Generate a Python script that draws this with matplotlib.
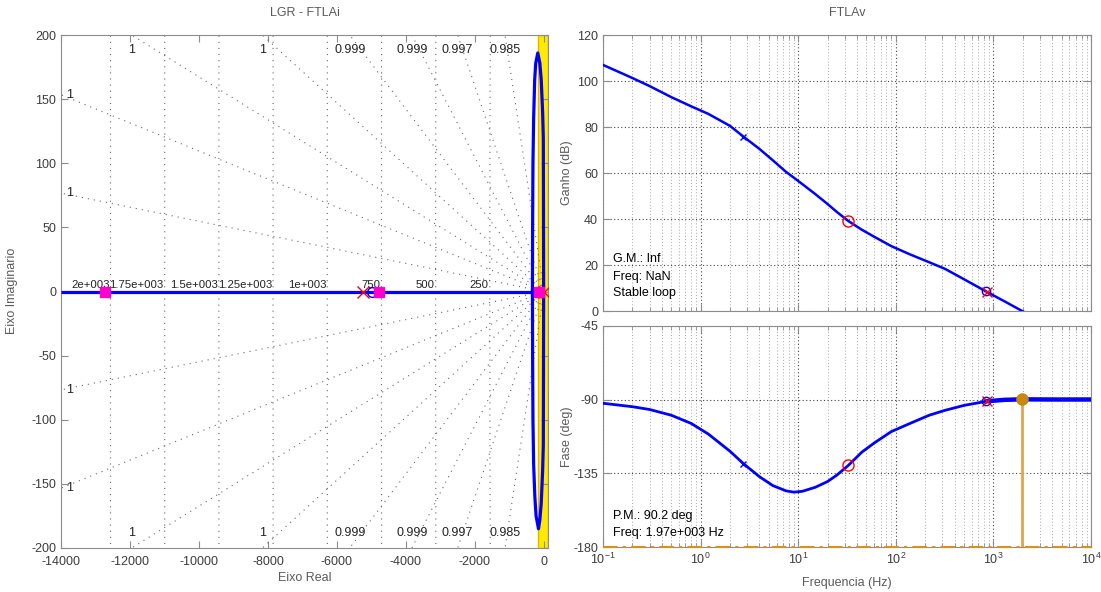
import numpy as np
import matplotlib
matplotlib.use("Agg")
import matplotlib.pyplot as plt

plt.rcParams['font.family'] = ['Liberation Sans', 'DejaVu Sans']
plt.rcParams['axes.unicode_minus'] = False

# ---------------- Root locus (FTLAi) ----------------
real_branch_re = [-14000, -335]
real_branch_im = [0, 0]
loop_re = [-335, -330, -320, -300, -270, -240, -180, -120, -80, -40, -20, -15, -10,
           -15, -20, -40, -80, -120, -160, -230, -265, -300, -320, -330, -335]
loop_im = [0, 50, 100, 135, 165, 178, 186, 178, 165, 140, 120, 60, 0,
           -60, -120, -140, -165, -178, -185, -175, -160, -135, -100, -50, 0]
ol_poles_re = [-5246, 0]
ol_zeros_re = [-4990]
cl_poles_re = [-12725, -4790, -145]
settling_bound_re = -165

grid_zeta = [0.999985, 0.99994, 0.99986, 0.99970, 0.99937, 0.99864, 0.99682, 0.9847]
grid_wn_hz = [250, 500, 750, 1000, 1250, 1500, 1750, 2000]
grid_wn_labels = ['250', '500', '750', '1e+003', '1.25e+003', '1.5e+003', '1.75e+003', '2e+003']

# ---------------- Bode (FTLAv) ----------------
freq_hz = [0.1, 0.2, 0.3, 0.5, 0.8, 1.2, 2.0, 2.75, 4, 5.5, 7.5, 9, 11, 15, 20, 25,
           32.7, 45, 60, 90, 140, 220, 320, 500, 850, 1300, 1970, 4000, 10000]
gain_db = [107.0, 101.3, 97.8, 93.0, 89.0, 85.7, 80.5, 75.8, 70.5, 65.5, 60.5, 58.0,
           55.2, 50.8, 46.5, 43.0, 39.1, 35.3, 32.3, 28.2, 24.6, 21.2, 18.3, 13.8,
           8.4, 4.2, 0.0, -6.5, -14.5]
phase_deg = [-92.2, -94.3, -96.0, -99.5, -104.5, -111.0, -121.5, -129.1, -137.0,
             -142.5, -145.7, -146.5, -146.0, -143.5, -140.0, -136.0, -130.1, -122.0,
             -116.5, -109.5, -104.5, -99.5, -96.5, -93.5, -91.0, -90.1, -89.8, -89.9, -89.9]

plant_pole_hz = [2.75]
plant_zero_hz = [840]
comp_zero_hz = [32.7]
comp_pole_hz = [870]
pm_deg = 90.2
pm_freq_hz = 1970

W, H = 1101, 592
fig = plt.figure(figsize=(W / 100, H / 100), dpi=100)
fig.patch.set_facecolor('white')


def px_axes(l, t, r, b):
    return fig.add_axes([l / W, 1 - b / H, (r - l) / W, (b - t) / H])


spine_c = '#8c8c8c'
tick_c = '#3c3c3c'
label_c = '#5a5a5a'
fs = 9


def style(ax):
    for s in ax.spines.values():
        s.set_color(spine_c)
    ax.tick_params(which='both', direction='in', top=True, right=True,
                   colors=spine_c, labelcolor=tick_c, labelsize=fs)
    ax.tick_params(which='major', length=5)
    ax.tick_params(which='minor', length=3)


# ---- root locus axes ----
ax = px_axes(61, 35, 548, 548)
style(ax)
ax.tick_params(axis='x', pad=6)
xmin, xmax, ymin, ymax = -14000, 116, -200, 200
ax.set_xlim(xmin, xmax)
ax.set_ylim(ymin, ymax)
ax.set_xticks(np.arange(-14000, 1, 2000))
ax.set_yticks(np.arange(-200, 201, 50))

ax.axvspan(settling_bound_re, xmax, facecolor='#FFEA00', edgecolor='#E2B400', lw=1, zorder=1)

dot = (0, (1, 4.5))
gcol = '#666666'
# damping lines
for z in grid_zeta:
    r = np.tan(np.arccos(z))
    for sgn in (1, -1):
        ax.plot([0, -20000], [0, sgn * r * 20000], color=gcol, lw=0.8, ls=dot, zorder=2)
    y_left = r * (-xmin)
    lab = '%.3g' % z
    if y_left < ymax:
        for sgn in (1, -1):
            ax.text(xmin + 150, sgn * y_left, lab, ha='left', va='center', fontsize=fs,
                    color='#222222', zorder=3)
    else:
        xt = -ymax / r
        for sgn in (1, -1):
            ax.text(xt, sgn * 188, lab, ha='center', va='center', fontsize=fs,
                    color='#222222', zorder=3)
# natural frequency circles
th = np.linspace(np.pi / 2, 3 * np.pi / 2, 2000)
for f, lab in zip(grid_wn_hz, grid_wn_labels):
    rad = 2 * np.pi * f
    ax.plot(rad * np.cos(th), rad * np.sin(th), color=gcol, lw=0.8, ls=dot, zorder=2)
    ax.text(-rad - 30, 1.5, lab, ha='right', va='bottom', fontsize=8.2, color='#222222', zorder=3)

ax.plot(real_branch_re, real_branch_im, color='blue', lw=2.3, zorder=4, solid_capstyle='butt')
ax.plot(loop_re, loop_im, color='blue', lw=2.3, zorder=4)
ax.plot(ol_poles_re, [0] * len(ol_poles_re), 'x', color='red', ms=8, mew=1.0, zorder=6)
ax.plot(ol_zeros_re, [0] * len(ol_zeros_re), 'o', mfc='none', mec='blue', ms=7, mew=1.0, zorder=6)
ax.plot(cl_poles_re, [0] * len(cl_poles_re), 's', color='#FF00CC', ms=6.5, zorder=7)

fig.text((61 + 548) / 2 / W, 1 - 13 / H, 'LGR - FTLAi', ha='center', va='center',
         fontsize=fs, color=label_c)
fig.text((61 + 548) / 2 / W, 1 - 578 / H, 'Eixo Real', ha='center', va='center',
         fontsize=fs, color=label_c)
fig.text(12 / W, 1 - 291 / H, 'Eixo Imaginario', ha='center', va='center',
         rotation=90, fontsize=fs, color=label_c)

# ---- Bode magnitude / phase ----
axm = px_axes(603, 35, 1091, 311)
axp = px_axes(603, 326, 1091, 547)
for a in (axm, axp):
    style(a)
    a.set_xscale('log')
    a.set_xlim(0.1, 1e4)
    a.grid(True, which='major', ls=(0, (1, 2.2)), color='#444444', lw=0.8)
    a.grid(True, which='minor', axis='x', ls=(0, (1, 2.2)), color='#a8a8a8', lw=0.7)
    a.set_axisbelow(True)

axm.set_ylim(0, 120)
axm.set_yticks(np.arange(0, 121, 20))
axm.tick_params(labelbottom=False)
axm.plot(freq_hz, gain_db, color='blue', lw=1.8, zorder=4)
fr = np.array(freq_hz)
g = np.array(gain_db)
p = np.array(phase_deg)
axm.plot(plant_pole_hz, np.interp(np.log10(plant_pole_hz), np.log10(fr), g), 'x',
         color='blue', ms=5, mew=1, zorder=5)
axm.plot(comp_zero_hz, np.interp(np.log10(comp_zero_hz), np.log10(fr), g), 'o',
         mfc='none', mec='red', ms=8, mew=1, zorder=5)
axm.plot(plant_zero_hz, np.interp(np.log10(plant_zero_hz), np.log10(fr), g), 'o',
         mfc='none', mec='blue', ms=6, mew=1, zorder=5)
axm.plot(comp_pole_hz, np.interp(np.log10(comp_pole_hz), np.log10(fr), g), 'x',
         color='red', ms=7, mew=1, zorder=6)

axp.set_ylim(-180, -45)
axp.set_yticks([-180, -135, -90, -45])
axp.plot(freq_hz, phase_deg, color='blue', lw=2.0, zorder=4)
hi = fr >= 850
axp.plot(fr[hi], p[hi], color='blue', lw=3.2, zorder=4)
axp.plot(plant_pole_hz, np.interp(np.log10(plant_pole_hz), np.log10(fr), p), 'x',
         color='blue', ms=5, mew=1, zorder=5)
axp.plot(comp_zero_hz, np.interp(np.log10(comp_zero_hz), np.log10(fr), p), 'o',
         mfc='none', mec='red', ms=8, mew=1, zorder=5)
axp.plot(plant_zero_hz, np.interp(np.log10(plant_zero_hz), np.log10(fr), p), 'o',
         mfc='none', mec='blue', ms=6, mew=1, zorder=5)
axp.plot(comp_pole_hz, np.interp(np.log10(comp_pole_hz), np.log10(fr), p), 'x',
         color='red', ms=7, mew=1, zorder=6)

axp.axhline(-180, color='#D8921C', lw=1.5, ls=(0, (7, 2.5, 1.5, 2.5)), clip_on=False, zorder=6)
axp.plot([pm_freq_hz, pm_freq_hz], [-180, -180 + pm_deg], color='#E2A650', lw=2.0, zorder=5)
axp.plot([pm_freq_hz], [-180 + pm_deg], 'o', color='#C8870F', ms=8, zorder=7)

fig.text(847 / W, 1 - 13 / H, 'FTLAv', ha='center', va='center', fontsize=fs, color=label_c)
fig.text(847 / W, 1 - 583 / H, 'Frequencia (Hz)', ha='center', va='center',
         fontsize=fs, color=label_c)
fig.text(567 / W, 1 - 173 / H, 'Ganho (dB)', ha='center', va='center', rotation=90,
         fontsize=fs, color=label_c)
fig.text(567 / W, 1 - 437 / H, 'Fase (deg)', ha='center', va='center', rotation=90,
         fontsize=fs, color=label_c)

for txt, yy in (('G.M.: Inf', 259), ('Freq: NaN', 277), ('Stable loop', 293),
                ('P.M.: %.1f deg' % pm_deg, 516), ('Freq: %.3g Hz' % pm_freq_hz, 533)):
    fig.text(613 / W, 1 - yy / H, txt.replace('e+03', 'e+003'), ha='left', va='center',
             fontsize=fs, color='black')

fig.savefig('out.png', dpi=100)
